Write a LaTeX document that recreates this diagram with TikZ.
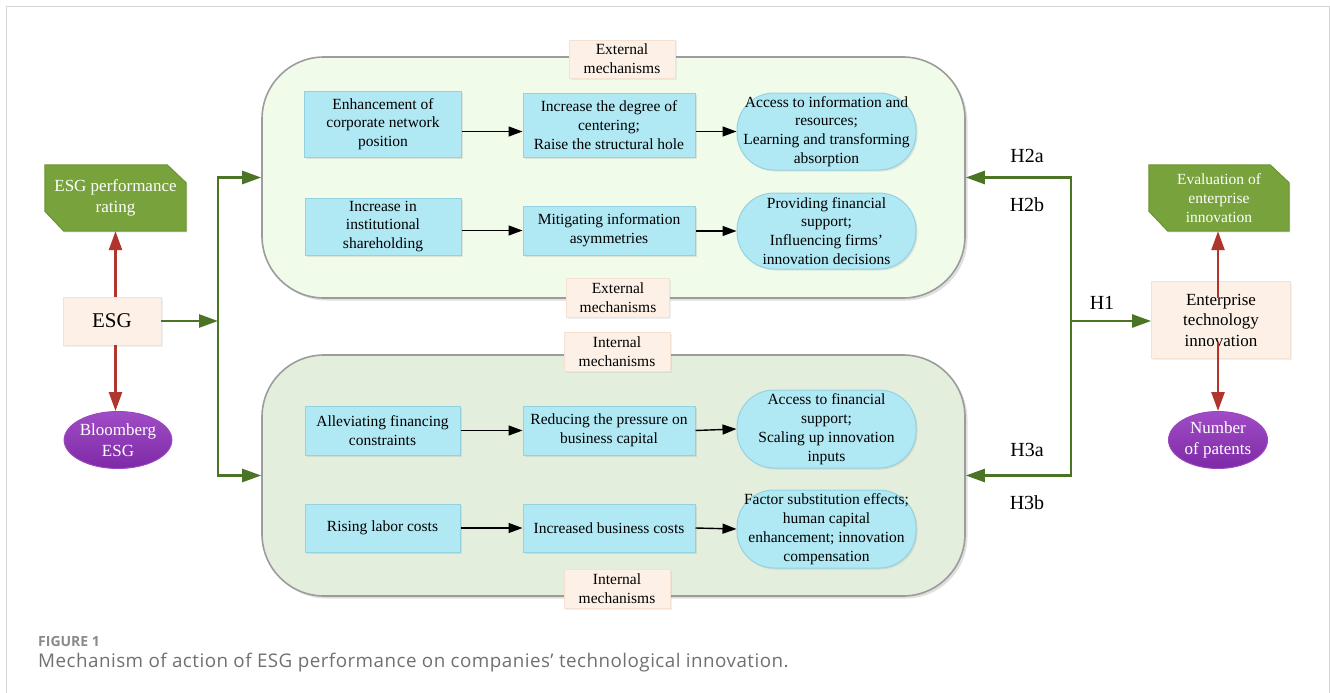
\documentclass[tikz,border=0pt]{standalone}
\usepackage{fontspec}
\setmainfont{Liberation Serif}
\newfontfamily\capfont{Open Sans}
\newfontfamily\capfontsp[LetterSpace=2.5]{Open Sans}
\usetikzlibrary{arrows.meta,shadows,calc,backgrounds,shapes.geometric}
\definecolor{frameC}{HTML}{D4D4D4}
\definecolor{blueF}{HTML}{B0E8F4}
\definecolor{blueD}{HTML}{93D2E3}
\definecolor{peachF}{HTML}{FDF1E7}
\definecolor{peachD}{HTML}{F5E1D2}
\definecolor{extF}{HTML}{F1FBEA}
\definecolor{intF}{HTML}{E4EEDC}
\definecolor{bigD}{HTML}{9C9C9C}
\definecolor{greenF}{HTML}{77A23C}
\definecolor{greenD}{HTML}{6A9533}
\definecolor{greenA}{HTML}{4C7425}
\definecolor{redA}{HTML}{B0352C}
\definecolor{purpT}{HTML}{A04CC6}
\definecolor{purpB}{HTML}{7E2AA6}
\definecolor{purpD}{HTML}{9A48C0}
\definecolor{capA}{HTML}{8A8A8A}
\definecolor{capB}{HTML}{707070}
\newcommand\fsBox{\fontsize{15.5}{18.8}\selectfont}
\newcommand\fsMid{\fontsize{17}{20.5}\selectfont}
\begin{document}
\begin{tikzpicture}[x=1pt,y=-1pt,
  bluebox/.style={rectangle, fill=blueF, draw=blueD, line width=1pt, inner sep=0pt, align=center, font=\fsBox,
    drop shadow={shadow xshift=1.5pt,shadow yshift=-1.5pt,opacity=0.18}},
  stadium/.style={bluebox, rounded corners=37pt},
  peach/.style={rectangle, fill=peachF, draw=peachD, line width=0.8pt, inner sep=0pt, align=center,
    drop shadow={shadow xshift=1.5pt,shadow yshift=-1.5pt,opacity=0.12}},
  bigbox/.style={rectangle, draw=bigD, line width=1.6pt, rounded corners=62pt, inner sep=0pt,
    drop shadow={shadow xshift=2.5pt,shadow yshift=-2.5pt,opacity=0.25}},
  greenbox/.style={rectangle, inner sep=0pt, align=center, text=white},
  purple/.style={ellipse, top color=purpT, bottom color=purpB, draw=purpD, line width=1pt, text=white,
    inner sep=0pt, align=center, font=\fsMid},
  hlab/.style={inner sep=0pt, font=\fontsize{20}{24}\selectfont},
  garrow/.style={draw=greenA, line width=2.6pt, -{Triangle[length=19pt,width=13pt]}},
  rarrow/.style={draw=redA, line width=2.6pt, -{Triangle[length=19pt,width=13pt]}},
  karrow/.style={draw=black, line width=1.4pt, -{Triangle[length=14pt,width=10pt]}}
]
\useasboundingbox (0,0) rectangle (1330,693);
\draw[frameC, line width=1pt] (6,7) -- (6,720) (6,7) -- (1329,7) -- (1329,720);

% big mechanism boxes
\node[bigbox, fill=extF, minimum width=703pt, minimum height=241pt] (ext) at (613.5,177.5) {};
\node[bigbox, fill=intF, minimum width=703pt, minimum height=241pt] (int) at (613.5,475.5) {};

% mechanism labels
\node[peach, minimum width=106pt, minimum height=38pt, font=\fsBox] (extT) at (622,59) {External\\mechanisms};
\node[peach, minimum width=103pt, minimum height=39pt, font=\fsBox] (extB) at (618,298) {External\\mechanisms};
\node[peach, minimum width=106pt, minimum height=39pt, font=\fsBox] (intT) at (617,352) {Internal\\mechanisms};
\node[peach, minimum width=106pt, minimum height=39pt, font=\fsBox] (intB) at (617,589) {Internal\\mechanisms};

% external boxes
\node[bluebox, minimum width=157pt, minimum height=66pt] (A1) at (383,124) {Enhancement of\\corporate network\\position};
\node[bluebox, minimum width=172pt, minimum height=64pt] (A2) at (609,125) {Increase the degree of\\centering;\\Raise the structural hole};
\node[stadium, minimum width=179pt, minimum height=77pt] (A3) at (826.5,131.5) {Access to information and\\resources;\\Learning and transforming\\absorption};
\node[bluebox, minimum width=156pt, minimum height=57pt] (B1) at (383,226.5) {Increase in\\institutional\\shareholding};
\node[bluebox, minimum width=172pt, minimum height=49pt] (B2) at (609,230.5) {Mitigating information\\asymmetries};
\node[stadium, minimum width=179pt, minimum height=76pt] (B3) at (826.5,231) {Providing financial\\support;\\Influencing firms'\\innovation decisions};

% internal boxes
\node[bluebox, minimum width=155pt, minimum height=49pt] (C1) at (382.5,430.5) {Alleviating financing\\constraints};
\node[bluebox, minimum width=172pt, minimum height=49pt] (C2) at (609,430.5) {Reducing the pressure on\\business capital};
\node[stadium, minimum width=179pt, minimum height=78pt] (C3) at (826.5,429) {Access to financial\\support;\\Scaling up innovation\\inputs};
\node[bluebox, minimum width=155pt, minimum height=48pt] (D1) at (382.5,528) {Rising labor costs};
\node[bluebox, minimum width=172pt, minimum height=48pt] (D2) at (609,528) {Increased business costs};
\node[stadium, minimum width=179pt, minimum height=78pt] (D3) at (826.5,529) {Factor substitution effects;\\human capital\\enhancement; innovation\\compensation};

\draw[karrow] (A1.east |- A3) -- (A2.west |- A3);
\draw[karrow] (A2.east |- A3) -- (A3.west);
\draw[karrow] (B1.east |- B2) -- (B2.west);
\draw[karrow] (B2.east |- B3) -- (B3.west);
\draw[karrow] (C1.east) -- (C2.west);
\draw[karrow] (C2.east) -- (C3.west);
\draw[karrow] (D1.east) -- (D2.west);
\draw[karrow] (D2.east) -- (D3.west);

% left side
\node[peach, minimum width=98pt, minimum height=48pt, font=\fontsize{21}{24}\selectfont] (esg) at (112,321) {ESG};
\node[greenbox, minimum width=141pt, minimum height=66pt, font=\fsMid] (rating) at (115.5,198) {ESG performance\\rating};
\node[purple, minimum width=107pt, minimum height=57pt] (bb) at (118,440) {Bloomberg\\ESG};

% right side
\node[peach, minimum width=139pt, minimum height=77pt, font=\fsMid] (eti) at (1221,320) {Enterprise\\technology\\innovation};
\node[greenbox, minimum width=140pt, minimum height=66pt, font=\fsBox] (eval) at (1219,198) {Evaluation of\\enterprise\\innovation};
\node[purple, minimum width=99pt, minimum height=57pt] (pat) at (1218,440) {Number\\of patents};

\begin{pgfonlayer}{background}
\foreach \n in {rating,eval}{
  \fill[greenF, draw=greenD, line width=1pt, drop shadow={shadow xshift=1.5pt,shadow yshift=-1.5pt,opacity=0.15}]
    (\n.north west) -- ($(\n.north east)+(-19,0)$) -- ($(\n.north east)+(0,18)$) -- (\n.south east)
    -- ($(\n.south west)+(19,0)$) -- ($(\n.south west)+(0,-20)$) -- cycle;
}
\end{pgfonlayer}

% red arrows
\draw[rarrow] (esg.north -| rating.south) -- (rating.south);
\draw[rarrow] (esg.south -| rating.south) -- (bb.north -| rating.south);
\coordinate (etiT) at ($(eti.center)+(-3,-22)$);
\coordinate (etiB) at ($(eti.center)+(-3,22)$);
\draw[rarrow] (etiT) -- (etiT |- eval.south);
\draw[rarrow] (etiB) -- (etiB |- pat.north);

% green connectors
\coordinate (jL) at (218,321);
\coordinate (jR) at (1071,321);
\draw[garrow] (esg.east) -- (jL);
\draw[garrow] (jL) -- (jL |- ext.west) -- (ext.west);
\draw[garrow] (jL) -- (jL |- int.west) -- (int.west);
\draw[garrow] (jR) -- (jR |- ext.east) -- (ext.east);
\draw[garrow] (jR) -- (jR |- int.east) -- (int.east);
\draw[garrow] (jR) -- (eti.west |- jR);

% hypothesis labels
\node[hlab] (h2a) at (1027,156) {H2a};
\node[hlab] (h2b) at (1027,205) {H2b};
\node[hlab] (h1) at (1102,303) {H1};
\node[hlab] (h3a) at (1027,450) {H3a};
\node[hlab] (h3b) at (1027,503) {H3b};

% caption
\node[anchor=base west, inner sep=0pt, text=capA, font=\capfont\bfseries\fontsize{14}{17}\selectfont] (figlab) at (38,646) {FIGURE 1};
\node[anchor=base west, inner sep=0pt, text=capB, font=\capfontsp\fontsize{18.8}{21}\selectfont] (cap) at (38,667) {Mechanism of action of ESG performance on companies’ technological innovation.};
\end{tikzpicture}
\end{document}
